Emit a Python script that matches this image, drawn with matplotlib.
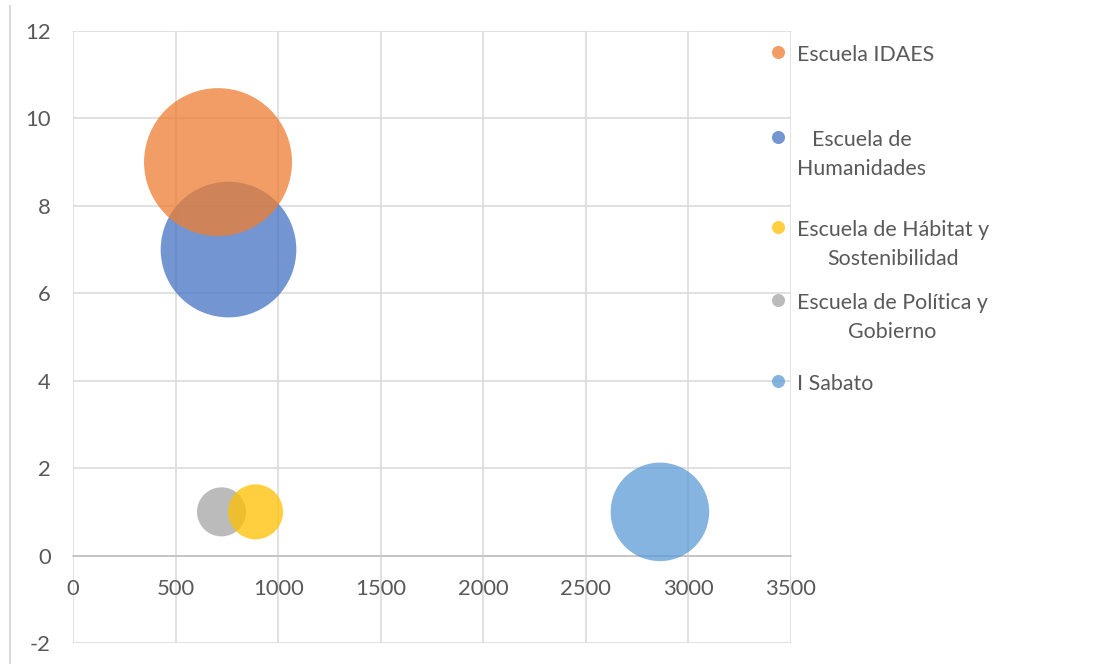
import matplotlib
matplotlib.use("Agg")
import matplotlib.pyplot as plt
from matplotlib.lines import Line2D

plt.rcParams['font.family'] = ['Lato', 'DejaVu Sans']
plt.rcParams['axes.unicode_minus'] = False

# ---- data ----
series = ["Escuela IDAES", "Escuela de\nHumanidades", "Escuela de Hábitat y\nSostenibilidad",
          "Escuela de Política y\nGobierno", "I Sabato"]
x_vals = [707, 758, 890, 724, 2861]
y_vals = [9, 7, 1, 1, 1]
bubble_sizes = [100, 84, 13.8, 11, 44.3]
colors = ["#ED7D31", "#4472C4", "#FFC000", "#A5A5A5", "#5B9BD5"]
x_ticks = [0, 500, 1000, 1500, 2000, 2500, 3000, 3500]
y_ticks = [-2, 0, 2, 4, 6, 8, 10, 12]

W, H = 1118, 667
fig = plt.figure(figsize=(W / 100, H / 100), dpi=100)
ax = fig.add_axes([73 / W, 1 - 643 / H, (791 - 73) / W, (643 - 31) / H])

grid_c = "#D9D9D9"
text_c = "#595959"
scale = 113.55

# draw in reverse series order (later series underneath)
for i in reversed(range(len(series))):
    ax.scatter([x_vals[i]], [y_vals[i]], s=bubble_sizes[i] * scale, color=colors[i],
               alpha=0.75, edgecolors='none', zorder=3)

ax.set_xlim(0, 3500)
ax.set_ylim(-2, 12)
ax.set_xticks(x_ticks)
ax.set_yticks(y_ticks)
ax.grid(True, color=grid_c, linewidth=1.1, zorder=0)
ax.set_axisbelow(True)
for sp in ['top', 'right', 'left']:
    ax.spines[sp].set_visible(False)
ax.spines['bottom'].set_position(('data', 0))
ax.spines['bottom'].set_color("#BFBFBF")
ax.spines['bottom'].set_linewidth(1.1)
ax.tick_params(axis='both', length=0, labelsize=15.8, labelcolor=text_c)
ax.tick_params(axis='x', pad=17)
ax.tick_params(axis='y', pad=16)

# manual legend (Excel-like, right side)
marker_y = [52, 137, 227, 300, 381]
for lab, c, my in zip(series, colors, marker_y):
    fig.lines.append(Line2D([778 / W], [1 - my / H], transform=fig.transFigure,
                            marker='o', markersize=9.4, color=c, alpha=0.75,
                            markeredgewidth=0, linestyle='none'))
    fig.text(797 / W, 1 - (my - 7) / H, lab, ha='left', va='top',
             multialignment='center', fontsize=15.4, color=text_c, linespacing=1.55)

# outer chart border fragment on the left
fig.lines.append(Line2D([10 / W, 10 / W], [1 - 6 / H, 1 - 663 / H], transform=fig.transFigure,
                        color=grid_c, linewidth=1.5))

fig.savefig("out.png", dpi=100)
